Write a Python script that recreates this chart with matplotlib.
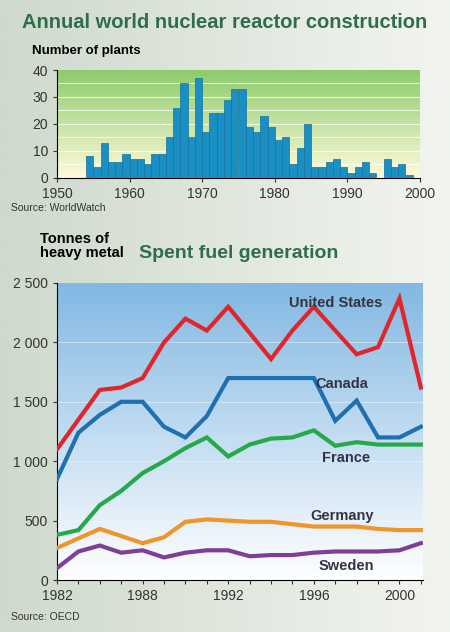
import matplotlib
matplotlib.use('Agg')
import matplotlib.pyplot as plt
import numpy as np
from matplotlib.colors import LinearSegmentedColormap

# top chart: reactor construction starts per year
bar_years = list(range(1954, 1999))
bar_counts = [8, 4, 13, 6, 6, 9, 7, 7, 5, 9, 9, 15, 26, 35, 15, 37,
              17, 24, 24, 29, 33, 33, 19, 17, 23, 19, 14, 15, 5, 11,
              20, 4, 4, 6, 7, 4, 2, 4, 6, 2, 0, 7, 4, 5, 1]

# bottom chart: spent fuel, tonnes of heavy metal
fuel_labels = ['1982', '', '', '', '1988', '', '', '', '1992', '', '', '',
               '1996', '', '', '', '2000', '']
us = [1100, 1350, 1600, 1620, 1700, 2000, 2200, 2100, 2300, 2080, 1860, 2100,
      2300, 2100, 1900, 1960, 2370, 1620]
canada = [850, 1240, 1390, 1500, 1500, 1290, 1200, 1380, 1700, 1700, 1700, 1700,
          1700, 1340, 1510, 1200, 1200, 1290]
france = [380, 420, 630, 750, 900, 1000, 1110, 1200, 1040, 1140, 1190, 1200,
          1260, 1130, 1160, 1140, 1140, 1140]
germany = [270, 350, 430, 370, 310, 360, 490, 510, 500, 490, 490, 470,
           450, 450, 450, 430, 420, 420]
sweden = [100, 240, 290, 230, 250, 190, 230, 250, 250, 200, 210, 210,
          230, 240, 240, 240, 250, 310]

plt.rcParams['font.family'] = ['Liberation Sans', 'DejaVu Sans']

fig = plt.figure(figsize=(4.5, 6.32), dpi=100)

# page background
bg = fig.add_axes([0, 0, 1, 1])
bg.imshow(np.linspace(0, 1, 256).reshape(1, -1),
          cmap=LinearSegmentedColormap.from_list('bg', ['#cfd9cc', '#f2f5ef']),
          aspect='auto', extent=[0, 1, 0, 1])
bg.axis('off')


def gradient(ax, top, bottom):
    cmap = LinearSegmentedColormap.from_list('g', [bottom, top])
    ax.imshow(np.linspace(0, 1, 256).reshape(-1, 1), cmap=cmap, origin='lower',
              aspect='auto', extent=[0, 1, 0, 1], transform=ax.transAxes, zorder=0)


green = '#2e6e4a'
fig.text(0.5, 0.965, 'Annual world nuclear reactor construction', ha='center', va='center',
         fontsize=14.5, fontweight='bold', color=green)
fig.text(0.07, 0.92, 'Number of plants', fontsize=9.5, fontweight='bold', va='center')

ax1 = fig.add_axes([57 / 450, 1 - 178 / 632, 363 / 450, 108 / 632])
gradient(ax1, '#8dcb6c', '#fffbdc')
ax1.bar(bar_years, bar_counts, width=1.0, align='edge', color='#1a8fc4',
        edgecolor='#13739e', linewidth=0.5, zorder=3)
for y in range(5, 40, 5):
    ax1.axhline(y, color='white', lw=0.8, alpha=0.7, zorder=1)
ax1.set_xlim(1950, 2000)
ax1.set_ylim(0, 40)
ax1.set_yticks([0, 10, 20, 30, 40])
ax1.set_xticks(range(1950, 2001, 10))
ax1.tick_params(labelsize=10, length=3, colors='#333333')
for s in ['top', 'right']:
    ax1.spines[s].set_visible(False)
fig.text(0.025, 1 - 208 / 632, 'Source: WorldWatch', fontsize=7.5, va='center', color='#333333')

# bottom chart
fig.text(0.09, 1 - 246 / 632, 'Tonnes of\nheavy metal', fontsize=10.5, fontweight='bold',
         va='center', linespacing=1.0)
fig.text(0.53, 1 - 254 / 632, 'Spent fuel generation', ha='center', va='center',
         fontsize=14, fontweight='bold', color=green)

ax2 = fig.add_axes([57 / 450, 1 - 580 / 632, 366 / 450, 297 / 632])
gradient(ax2, '#82b8e2', '#ffffff')
x = np.arange(len(us))
series = [(us, '#e0262b', 'United States', 13.0, 2330),
          (canada, '#1f6fb3', 'Canada', 13.3, 1650),
          (france, '#25a94a', 'France', 13.5, 1030),
          (germany, '#f0952a', 'Germany', 13.3, 540),
          (sweden, '#7f3f98', 'Sweden', 13.5, 120)]
for vals, col, name, lx, ly in series:
    ax2.plot(x, vals, color=col, lw=3, solid_joinstyle='miter', zorder=3)
    ax2.text(lx, ly, name, color='#333344', fontsize=10.5, fontweight='bold', ha='center',
             va='center', zorder=4)
for y in range(500, 2500, 500):
    ax2.axhline(y, color='white', lw=0.6, alpha=0.5, zorder=1)
ax2.set_xlim(0, 17.1)
ax2.set_ylim(0, 2500)
ax2.set_xticks(x)
ax2.set_xticklabels(fuel_labels)
ax2.set_yticks([0, 500, 1000, 1500, 2000, 2500])
ax2.set_yticklabels(['0', '500', '1 000', '1 500', '2 000', '2 500'])
ax2.tick_params(labelsize=10, length=3, colors='#333333')
for s in ['top', 'right']:
    ax2.spines[s].set_visible(False)
fig.text(0.025, 1 - 617 / 632, 'Source: OECD', fontsize=7.5, va='center', color='#333333')

fig.savefig('out.png', dpi=100)
